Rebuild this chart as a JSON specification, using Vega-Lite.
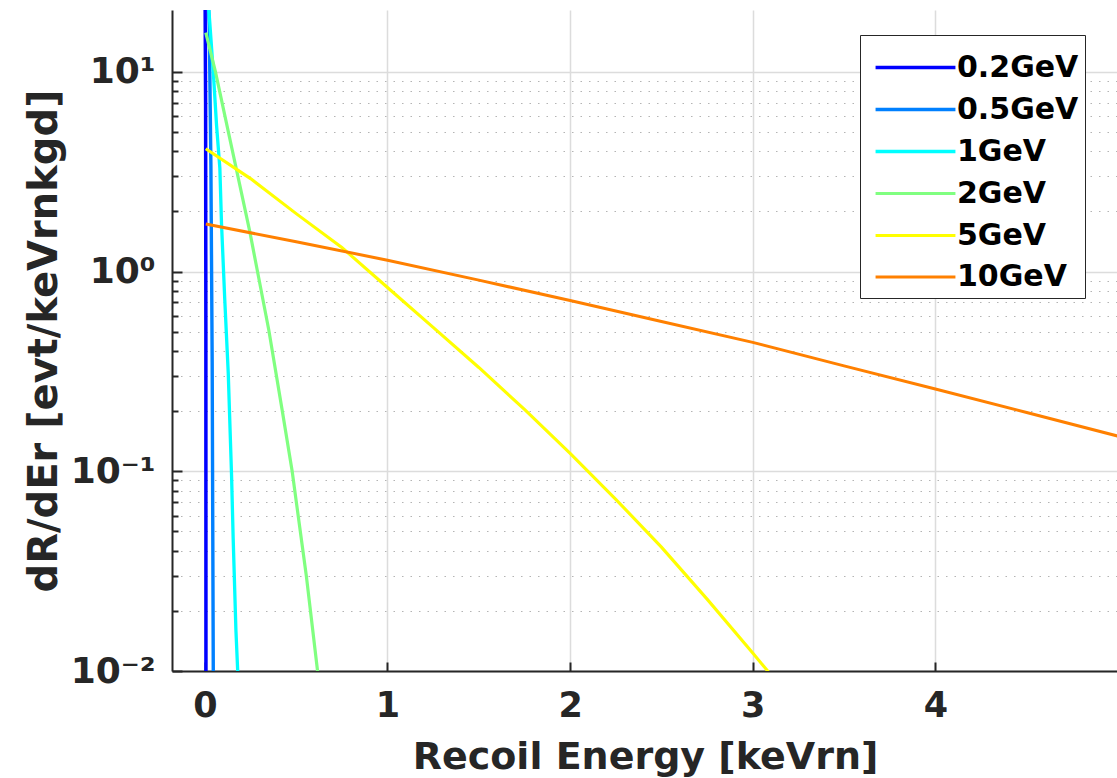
{
  "$schema": "https://vega.github.io/schema/vega-lite/v6.json",
  "autosize": {"type": "none"},
  "padding": {"left": 172, "top": 10, "right": 0, "bottom": 107},
  "width": 946,
  "height": 661,
  "background": "white",
  "config": {
    "view": {"stroke": null},
    "font": "DejaVu Sans"
  },
  "data": {
    "values": [
      {"mass": "0.2GeV", "E": 0.0, "rate": 40},
      {"mass": "0.2GeV", "E": 0.004, "rate": 7},
      {"mass": "0.2GeV", "E": 0.0055, "rate": 0.5},
      {"mass": "0.2GeV", "E": 0.006, "rate": 0.005},

      {"mass": "0.5GeV", "E": 0.01, "rate": 40},
      {"mass": "0.5GeV", "E": 0.024, "rate": 17},
      {"mass": "0.5GeV", "E": 0.033, "rate": 3.4},
      {"mass": "0.5GeV", "E": 0.04, "rate": 0.35},
      {"mass": "0.5GeV", "E": 0.046, "rate": 0.01},
      {"mass": "0.5GeV", "E": 0.047, "rate": 0.007},

      {"mass": "1GeV", "E": 0.0, "rate": 37},
      {"mass": "1GeV", "E": 0.027, "rate": 17.6},
      {"mass": "1GeV", "E": 0.046, "rate": 10},
      {"mass": "1GeV", "E": 0.064, "rate": 5.4},
      {"mass": "1GeV", "E": 0.082, "rate": 3.3},
      {"mass": "1GeV", "E": 0.091, "rate": 1.75},
      {"mass": "1GeV", "E": 0.109, "rate": 0.72},
      {"mass": "1GeV", "E": 0.128, "rate": 0.31},
      {"mass": "1GeV", "E": 0.146, "rate": 0.096},
      {"mass": "1GeV", "E": 0.155, "rate": 0.046},
      {"mass": "1GeV", "E": 0.17, "rate": 0.016},
      {"mass": "1GeV", "E": 0.182, "rate": 0.009},

      {"mass": "2GeV", "E": 0.005, "rate": 15.7},
      {"mass": "2GeV", "E": 0.058, "rate": 10},
      {"mass": "2GeV", "E": 0.105, "rate": 6.3},
      {"mass": "2GeV", "E": 0.173, "rate": 3.24},
      {"mass": "2GeV", "E": 0.246, "rate": 1.585},
      {"mass": "2GeV", "E": 0.29, "rate": 0.98},
      {"mass": "2GeV", "E": 0.35, "rate": 0.51},
      {"mass": "2GeV", "E": 0.423, "rate": 0.203},
      {"mass": "2GeV", "E": 0.478, "rate": 0.1},
      {"mass": "2GeV", "E": 0.556, "rate": 0.0297},
      {"mass": "2GeV", "E": 0.617, "rate": 0.01},
      {"mass": "2GeV", "E": 0.63, "rate": 0.008},

      {"mass": "5GeV", "E": 0.005, "rate": 4.12},
      {"mass": "5GeV", "E": 0.25, "rate": 2.92},
      {"mass": "5GeV", "E": 0.5, "rate": 1.95},
      {"mass": "5GeV", "E": 0.75, "rate": 1.32},
      {"mass": "5GeV", "E": 1.0, "rate": 0.832},
      {"mass": "5GeV", "E": 1.25, "rate": 0.525},
      {"mass": "5GeV", "E": 1.5, "rate": 0.331},
      {"mass": "5GeV", "E": 1.75, "rate": 0.204},
      {"mass": "5GeV", "E": 2.0, "rate": 0.123},
      {"mass": "5GeV", "E": 2.25, "rate": 0.0724},
      {"mass": "5GeV", "E": 2.5, "rate": 0.0417},
      {"mass": "5GeV", "E": 2.75, "rate": 0.0229},
      {"mass": "5GeV", "E": 3.0, "rate": 0.0123},
      {"mass": "5GeV", "E": 3.1, "rate": 0.00955},

      {"mass": "10GeV", "E": 0.005, "rate": 1.73},
      {"mass": "10GeV", "E": 0.5, "rate": 1.41},
      {"mass": "10GeV", "E": 1.0, "rate": 1.14},
      {"mass": "10GeV", "E": 1.5, "rate": 0.906},
      {"mass": "10GeV", "E": 2.0, "rate": 0.716},
      {"mass": "10GeV", "E": 2.5, "rate": 0.562},
      {"mass": "10GeV", "E": 3.0, "rate": 0.442},
      {"mass": "10GeV", "E": 3.5, "rate": 0.337},
      {"mass": "10GeV", "E": 4.0, "rate": 0.258},
      {"mass": "10GeV", "E": 4.5, "rate": 0.197},
      {"mass": "10GeV", "E": 5.0, "rate": 0.15}
    ]
  },
  "mark": {"type": "line", "clip": true, "interpolate": "linear"},
  "encoding": {
    "x": {
      "field": "E", "type": "quantitative",
      "scale": {"domain": [-0.18, 5.0], "nice": false, "zero": false},
      "axis": {
        "title": "Recoil Energy [keVrn]",
        "values": [0, 1, 2, 3, 4],
        "format": "d",
        "domainColor": "#262626", "domainWidth": 2,
        "tickColor": "#262626", "tickWidth": 2, "tickSize": -9,
        "labelFont": "DejaVu Sans", "labelFontSize": 35, "labelFontWeight": "bold", "labelColor": "#262626",
        "labelPadding": 26,
        "titleFont": "DejaVu Sans", "titleFontSize": 38, "titleFontWeight": "bold", "titleColor": "#262626",
        "titlePadding": 15,
        "grid": true, "gridColor": "#dcdcdc", "gridWidth": 1.5
      }
    },
    "y": {
      "field": "rate", "type": "quantitative",
      "scale": {"type": "log", "domain": [0.01, 20.4], "nice": false},
      "axis": {
        "title": "dR/dEr [evt/keVrnkgd]",
        "values": [0.01,0.02,0.03,0.04,0.05,0.06,0.07,0.08,0.09,0.1,0.2,0.3,0.4,0.5,0.6,0.7,0.8,0.9,1,2,3,4,5,6,7,8,9,10],
        "labelExpr": "datum.value == 10 ? '10¹' : datum.value == 1 ? '10⁰' : datum.value == 0.1 ? '10⁻¹' : datum.value == 0.01 ? '10⁻²' : ''",
        "domainColor": "#262626", "domainWidth": 2,
        "tickColor": "#262626", "tickWidth": 2,
        "tickSize": {"condition": {"test": "datum.value == 10 || datum.value == 1 || datum.value == 0.1 || datum.value == 0.01", "value": -10}, "value": -6},
        "labelFont": "DejaVu Sans", "labelFontSize": 36, "labelFontWeight": "bold", "labelColor": "#262626",
        "labelPadding": 27,
        "titleFont": "DejaVu Sans", "titleFontSize": 40, "titleFontWeight": "bold", "titleColor": "#262626",
        "titlePadding": 6,
        "grid": true,
        "gridColor": {"condition": {"test": "datum.value == 10 || datum.value == 1 || datum.value == 0.1 || datum.value == 0.01", "value": "#dcdcdc"}, "value": "#b4b4b4"},
        "gridWidth": {"condition": {"test": "datum.value == 10 || datum.value == 1 || datum.value == 0.1 || datum.value == 0.01", "value": 1.5}, "value": 1.2},
        "gridDash": {"condition": {"test": "datum.value == 10 || datum.value == 1 || datum.value == 0.1 || datum.value == 0.01", "value": []}, "value": [1.5, 7]}
      }
    },
    "color": {
      "field": "mass", "type": "nominal",
      "scale": {
        "domain": ["0.2GeV", "0.5GeV", "1GeV", "2GeV", "5GeV", "10GeV"],
        "range": ["#0000ff", "#0080ff", "#00ffff", "#80ff80", "#ffff00", "#ff8000"]
      },
      "legend": {
        "title": null,
        "orient": "none",
        "legendX": 688,
        "legendY": 25,
        "symbolType": "M-1.63,0H1.63",
        "symbolSize": 2401,
        "symbolStrokeWidth": 4.5,
        "symbolOffset": 23,
        "labelFont": "DejaVu Sans", "labelFontSize": 30, "labelFontWeight": "bold", "labelColor": "#000000",
        "labelOffset": 15,
        "rowPadding": 0,
        "padding": 6,
        "strokeColor": "#262626",
        "fillColor": "#ffffff"
      }
    },
    "strokeWidth": {
      "field": "mass", "type": "nominal",
      "scale": {
        "domain": ["0.2GeV", "0.5GeV", "1GeV", "2GeV", "5GeV", "10GeV"],
        "range": [3.5, 3, 3, 3, 2, 3.5]
      },
      "legend": null
    }
  }
}
